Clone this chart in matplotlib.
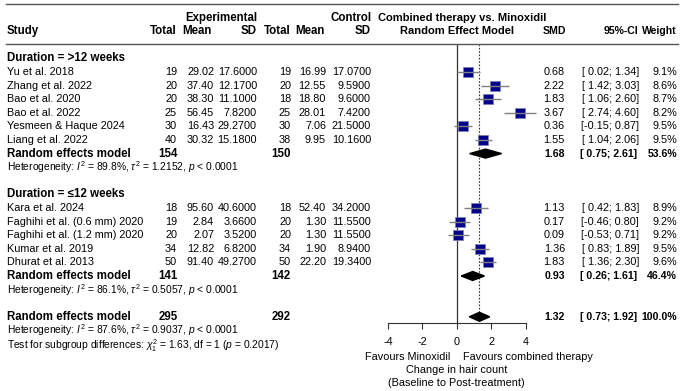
import matplotlib
matplotlib.use("Agg")
import matplotlib.pyplot as plt
import matplotlib.transforms as mtransforms
from matplotlib.lines import Line2D
import numpy as np

plt.rcParams['font.family'] = ['Liberation Sans', 'DejaVu Sans']
plt.rcParams['mathtext.fontset'] = 'custom'
plt.rcParams['mathtext.rm'] = 'Liberation Sans'
plt.rcParams['mathtext.it'] = 'Liberation Sans:italic'
plt.rcParams['axes.unicode_minus'] = False

# ---- data: duration > 12 weeks
studies1 = ["Yu et al. 2018", "Zhang et al. 2022", "Bao et al. 2020", "Bao et al. 2022",
            "Yesmeen & Haque 2024", "Liang et al. 2022"]
exp_n1 = [19, 20, 20, 25, 30, 40]
exp_mean1 = [29.02, 37.40, 38.30, 56.45, 16.43, 30.32]
exp_sd1 = [17.60, 12.17, 11.10, 7.82, 29.27, 15.18]
ctl_n1 = [19, 20, 18, 25, 30, 38]
ctl_mean1 = [16.99, 12.55, 18.80, 28.01, 7.06, 9.95]
ctl_sd1 = [17.07, 9.59, 9.60, 7.42, 21.50, 10.16]
smd1 = [0.68, 2.22, 1.83, 3.67, 0.36, 1.55]
lo1 = [0.02, 1.42, 1.06, 2.74, -0.15, 1.04]
hi1 = [1.34, 3.03, 2.60, 4.60, 0.87, 2.06]
w1 = [9.1, 8.6, 8.7, 8.2, 9.5, 9.5]

# ---- data: duration <= 12 weeks
studies2 = ["Kara et al. 2024", "Faghihi et al. (0.6 mm) 2020", "Faghihi et al. (1.2 mm) 2020",
            "Kumar et al. 2019", "Dhurat et al. 2013"]
exp_n2 = [18, 19, 20, 34, 50]
exp_mean2 = [95.60, 2.84, 2.07, 12.82, 91.40]
exp_sd2 = [40.60, 3.66, 3.52, 6.82, 49.27]
ctl_n2 = [18, 20, 20, 34, 50]
ctl_mean2 = [52.40, 1.30, 1.30, 1.90, 22.20]
ctl_sd2 = [34.20, 11.55, 11.55, 8.94, 19.34]
smd2 = [1.13, 0.17, 0.09, 1.36, 1.83]
lo2 = [0.42, -0.46, -0.53, 0.83, 1.36]
hi2 = [1.83, 0.80, 0.71, 1.89, 2.30]
w2 = [8.9, 9.2, 9.2, 9.5, 9.6]

# ---- pooled results (subgroup 1, subgroup 2, overall)
pooled_n_exp = [154, 141, 295]
pooled_n_ctl = [150, 142, 292]
pooled_smd = [1.68, 0.93, 1.32]
pooled_lo = [0.75, 0.26, 0.73]
pooled_hi = [2.61, 1.61, 1.92]
pooled_w = [53.6, 46.4, 100.0]

het_texts = [r"Heterogeneity: $I^2$ = 89.8%, $\tau^2$ = 1.2152, $p$ < 0.0001",
             r"Heterogeneity: $I^2$ = 86.1%, $\tau^2$ = 0.5057, $p$ < 0.0001",
             r"Heterogeneity: $I^2$ = 87.6%, $\tau^2$ = 0.9037, $p$ < 0.0001"]
subgroup_test = r"Test for subgroup differences: $\chi^2_1$ = 1.63, df = 1 ($p$ = 0.2017)"

# ---- layout (pixels)
W, H = 681, 391
ROW0, STEP = 72, 13.6          # pixel y of first study row, row spacing
FS = 7.8
FSB = 8.3

fig = plt.figure(figsize=(W / 100, H / 100), dpi=100)

ax_left, ax_right = 370.7, 547.9
ax_top, ax_bot = 44, 323
ax = fig.add_axes([ax_left / W, 1 - ax_bot / H, (ax_right - ax_left) / W, (ax_bot - ax_top) / H])
ax.set_xlim(-5.0, 5.3)
ax.set_ylim((ax_bot - ROW0) / STEP, (ax_top - ROW0) / STEP)
ax.patch.set_alpha(0)
for s in ['left', 'right', 'top']:
    ax.spines[s].set_visible(False)
ax.spines['bottom'].set_bounds(-4, 4)
ax.spines['bottom'].set_color('#333333')
ax.set_yticks([])
ax.set_xticks([-4, -2, 0, 2, 4])
ax.tick_params(axis='x', length=4, width=0.8, color='#333333', labelsize=FS, pad=6)

tr = mtransforms.blended_transform_factory(fig.transFigure, ax.transData)


def col(px, r, s, ha='right', bold=False, size=None):
    if size is None:
        size = FSB if bold else FS
    ax.text(px / W, r, s, transform=tr, ha=ha, va='center', fontsize=size,
            fontweight='bold' if bold else 'normal')


# header
fig.add_artist(Line2D([6 / W, 678 / W], [1 - 4 / H, 1 - 4 / H], color='#555555', lw=1))
fig.add_artist(Line2D([6 / W, 678 / W], [1 - 44 / H, 1 - 44 / H], color='#555555', lw=1))
col(221, -4, "Experimental", ha='center', bold=True)
col(372, -4, "Control", bold=True)
col(378, -4, "Combined therapy vs. Minoxidil", ha='left', bold=True, size=8.0)
col(7, -3, "Study", ha='left', bold=True)
for px, s in [(177, "Total"), (212, "Mean"), (257, "SD"), (291, "Total"), (325, "Mean"),
              (371, "SD")]:
    col(px, -3, s, bold=True)
for px, s in [(566, "SMD"), (638, "95%-CI"), (677, "Weight")]:
    col(px, -3, s, bold=True, size=7.6)
col(456.7, -3, "Random Effect Model", ha='center', bold=True, size=8.0)

DIAM_H = 0.33


def study_rows(r0, names, en, em, es, cn, cm, cs, smd, lo, hi, w):
    rows = np.arange(len(names)) + r0
    for i, r in enumerate(rows):
        col(7, r, names[i], ha='left')
        col(177, r, f"{en[i]}")
        col(214, r, f"{em[i]:.2f}")
        col(257, r, f"{es[i]:.4f}")
        col(291, r, f"{cn[i]}")
        col(326, r, f"{cm[i]:.2f}")
        col(371, r, f"{cs[i]:.4f}")
        col(565, r, f"{smd[i]:.2f}")
        col(639, r, f"[{lo[i]:5.2f}; {hi[i]:.2f}]")
        col(677, r, f"{w[i]:.1f}%")
    ax.hlines(rows, lo, hi, color='#808080', lw=1, zorder=3)
    for x, r, wt in zip(smd, rows, w):
        ax.plot(x, r, 's', ms=7.6 * np.sqrt(wt / 9.1), mfc='#00008B', mec='#8080B0',
                mew=0.6, zorder=2)


def pooled_row(r, k, het_row):
    col(7, r, "Random effects model", ha='left', bold=True)
    col(178, r, f"{pooled_n_exp[k]}", bold=True)
    col(291, r, f"{pooled_n_ctl[k]}", bold=True)
    col(565, r, f"{pooled_smd[k]:.2f}", bold=True, size=7.6)
    col(637, r, f"[{pooled_lo[k]:5.2f}; {pooled_hi[k]:.2f}]", bold=True, size=7.6)
    col(677, r, f"{pooled_w[k]:.1f}%", bold=True, size=7.6)
    e, a, b = pooled_smd[k], pooled_lo[k], pooled_hi[k]
    ax.fill([a, e, b, e], [r, r - DIAM_H, r, r + DIAM_H], color='black', zorder=3)
    col(7, het_row, het_texts[k], ha='left', size=7.4)


col(7, -1, "Duration = >12 weeks", ha='left', bold=True)
study_rows(0, studies1, exp_n1, exp_mean1, exp_sd1, ctl_n1, ctl_mean1, ctl_sd1, smd1, lo1, hi1, w1)
pooled_row(6, 0, 7)

col(7, 9, "Duration = \u226412 weeks", ha='left', bold=True)
study_rows(10, studies2, exp_n2, exp_mean2, exp_sd2, ctl_n2, ctl_mean2, ctl_sd2, smd2, lo2, hi2, w2)
pooled_row(15, 1, 16)

pooled_row(18, 2, 19)
col(7, 20.1, subgroup_test, ha='left', size=7.4)

# reference lines
ax.axvline(0, color='#333333', lw=0.9, zorder=1)
ax.vlines(pooled_smd[2], ax.get_ylim()[1], 18 - DIAM_H, color='#333333', lw=0.8,
          linestyles=(0, (1.5, 1.5)), zorder=1)

# axis captions
fig.text(450 / W, 1 - 357 / H, "Favours Minoxidil", ha='right', va='center', fontsize=FS)
fig.text(463 / W, 1 - 357 / H, "Favours combined therapy", ha='left', va='center', fontsize=FS)
fig.text(456.7 / W, 1 - 370 / H, "Change in hair count", ha='center', va='center', fontsize=FS)
fig.text(456.7 / W, 1 - 383 / H, "(Baseline to Post-treatment)", ha='center', va='center', fontsize=FS)

fig.savefig("out.png", dpi=100)
